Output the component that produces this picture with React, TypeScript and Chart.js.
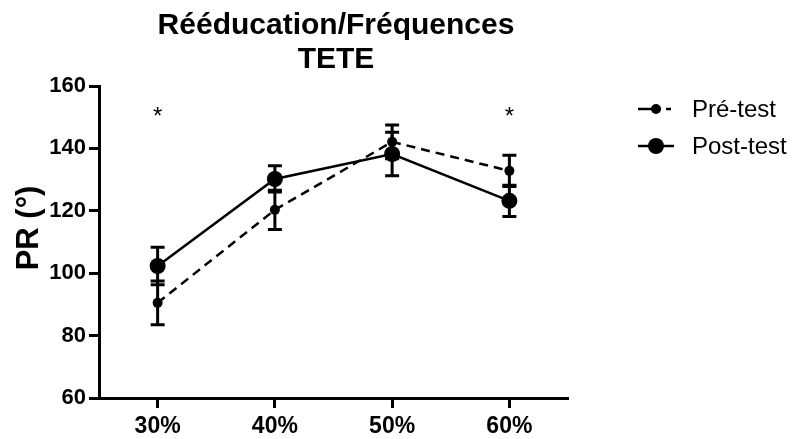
import React, { useEffect, useRef } from "react";
import { Chart, registerables } from "chart.js";

Chart.register(...registerables);

const categories = ["30%", "40%", "50%", "60%"];
const preTest = [90.5, 120.3, 142.1, 132.8];
const preErr = [7, 6.3, 5.4, 5];
const postTest = [102.3, 130.2, 138.2, 123.2];
const postErr = [6, 4.2, 7, 5];
const significance = ["*", "", "", "*"];
const significanceLevel = 151.7;
const yTicks = [60, 80, 100, 120, 140, 160];
const titleLines = ["Rééducation/Fréquences", "TETE"];
const yTitle = "PR (°)";
const seriesNames = ["Pré-test", "Post-test"];

const FONT = "Arial, 'Liberation Sans', sans-serif";

export default function App() {
  const ref = useRef<HTMLCanvasElement | null>(null);

  useEffect(() => {
    if (!ref.current) return;
    const errs = [preErr, postErr];

    const overlay = {
      id: "overlay",
      afterDatasetsDraw(chart: any) {
        const ctx = chart.ctx;
        const xs = chart.scales.x;
        const ys = chart.scales.y;
        ctx.save();
        // error bars
        ctx.strokeStyle = "#000";
        ctx.lineWidth = 3;
        ctx.setLineDash([]);
        chart.data.datasets.forEach((ds: any, di: number) => {
          ds.data.forEach((v: number, i: number) => {
            const x = xs.getPixelForValue(i);
            const yt = ys.getPixelForValue(v + errs[di][i]);
            const yb = ys.getPixelForValue(v - errs[di][i]);
            ctx.beginPath();
            ctx.moveTo(x, yt);
            ctx.lineTo(x, yb);
            ctx.moveTo(x - 7, yt);
            ctx.lineTo(x + 7, yt);
            ctx.moveTo(x - 7, yb);
            ctx.lineTo(x + 7, yb);
            ctx.stroke();
          });
        });
        // asterisks
        ctx.fillStyle = "#000";
        ctx.font = `24px ${FONT}`;
        ctx.textAlign = "center";
        ctx.textBaseline = "middle";
        significance.forEach((s, i) => {
          if (!s) return;
          ctx.fillText(s, xs.getPixelForValue(i), ys.getPixelForValue(significanceLevel) + 5);
        });
        // title
        ctx.font = `bold 30px ${FONT}`;
        ctx.textBaseline = "alphabetic";
        ctx.fillText(titleLines[0], 336, 34);
        ctx.fillText(titleLines[1], 336, 68);
        // y title
        ctx.save();
        ctx.translate(38, 228);
        ctx.rotate(-Math.PI / 2);
        ctx.font = `bold 31px ${FONT}`;
        ctx.textBaseline = "alphabetic";
        ctx.fillText(yTitle, 0, 0);
        ctx.restore();
        // legend
        const rows = [
          { y: 109, dash: true, r: 5 },
          { y: 146, dash: false, r: 8 },
        ];
        rows.forEach((row, i) => {
          ctx.lineWidth = 2.5;
          if (row.dash) {
            ctx.beginPath();
            ctx.moveTo(638, row.y);
            ctx.lineTo(656, row.y);
            ctx.stroke();
            ctx.beginPath();
            ctx.setLineDash([5, 5]);
            ctx.moveTo(656, row.y);
            ctx.lineTo(674, row.y);
            ctx.stroke();
            ctx.setLineDash([]);
          } else {
            ctx.beginPath();
            ctx.moveTo(638, row.y);
            ctx.lineTo(674, row.y);
            ctx.stroke();
          }
          ctx.beginPath();
          ctx.arc(656, row.y, row.r, 0, Math.PI * 2);
          ctx.fill();
          ctx.font = `24px ${FONT}`;
          ctx.textAlign = "left";
          ctx.textBaseline = "middle";
          ctx.fillText(seriesNames[i], 692, row.y + 1);
        });
        ctx.restore();
      },
    };

    const chart = new Chart(ref.current, {
      type: "line",
      data: {
        labels: categories,
        datasets: [
          {
            label: seriesNames[0],
            data: preTest,
            borderColor: "#000",
            backgroundColor: "#000",
            borderWidth: 2.5,
            borderDash: [9, 6],
            pointRadius: 5,
            pointBorderWidth: 0,
            pointBackgroundColor: "#000",
            tension: 0,
          },
          {
            label: seriesNames[1],
            data: postTest,
            borderColor: "#000",
            backgroundColor: "#000",
            borderWidth: 2.5,
            pointRadius: 8,
            pointBorderWidth: 0,
            pointBackgroundColor: "#000",
            tension: 0,
          },
        ],
      },
      options: {
        animation: false,
        responsive: false,
        layout: { padding: { top: 86, right: 225, left: 0, bottom: 0 } },
        plugins: {
          legend: { display: false },
          title: { display: false },
          tooltip: { enabled: false },
        },
        scales: {
          x: {
            type: "category",
            offset: true,
            afterFit: (s: any) => {
              s.height = 41;
            },
            grid: {
              display: true,
              drawOnChartArea: false,
              drawTicks: true,
              tickLength: 10,
              tickWidth: 3,
              tickColor: "#000",
              offset: false,
            },
            border: { display: true, width: 3, color: "#000" },
            ticks: {
              color: "#000",
              font: { family: FONT, size: 23, weight: "bold" },
              padding: 5,
            },
          },
          y: {
            min: 60,
            max: 160,
            afterFit: (s: any) => {
              s.width = 99;
            },
            afterBuildTicks: (s: any) => {
              s.ticks = yTicks.map((v) => ({ value: v }));
            },
            grid: {
              display: true,
              drawOnChartArea: false,
              drawTicks: true,
              tickLength: 10,
              tickWidth: 3,
              tickColor: "#000",
            },
            border: { display: true, width: 3, color: "#000" },
            ticks: {
              color: "#000",
              font: { family: FONT, size: 22, weight: "bold" },
              padding: 3,
            },
          },
        },
      },
      plugins: [overlay],
    });
    return () => chart.destroy();
  }, []);

  return (
    <div style={{ position: "absolute", left: 0, top: 0, width: 793, height: 439, background: "#fff" }}>
      <canvas ref={ref} width={793} height={439} style={{ display: "block" }} />
    </div>
  );
}
